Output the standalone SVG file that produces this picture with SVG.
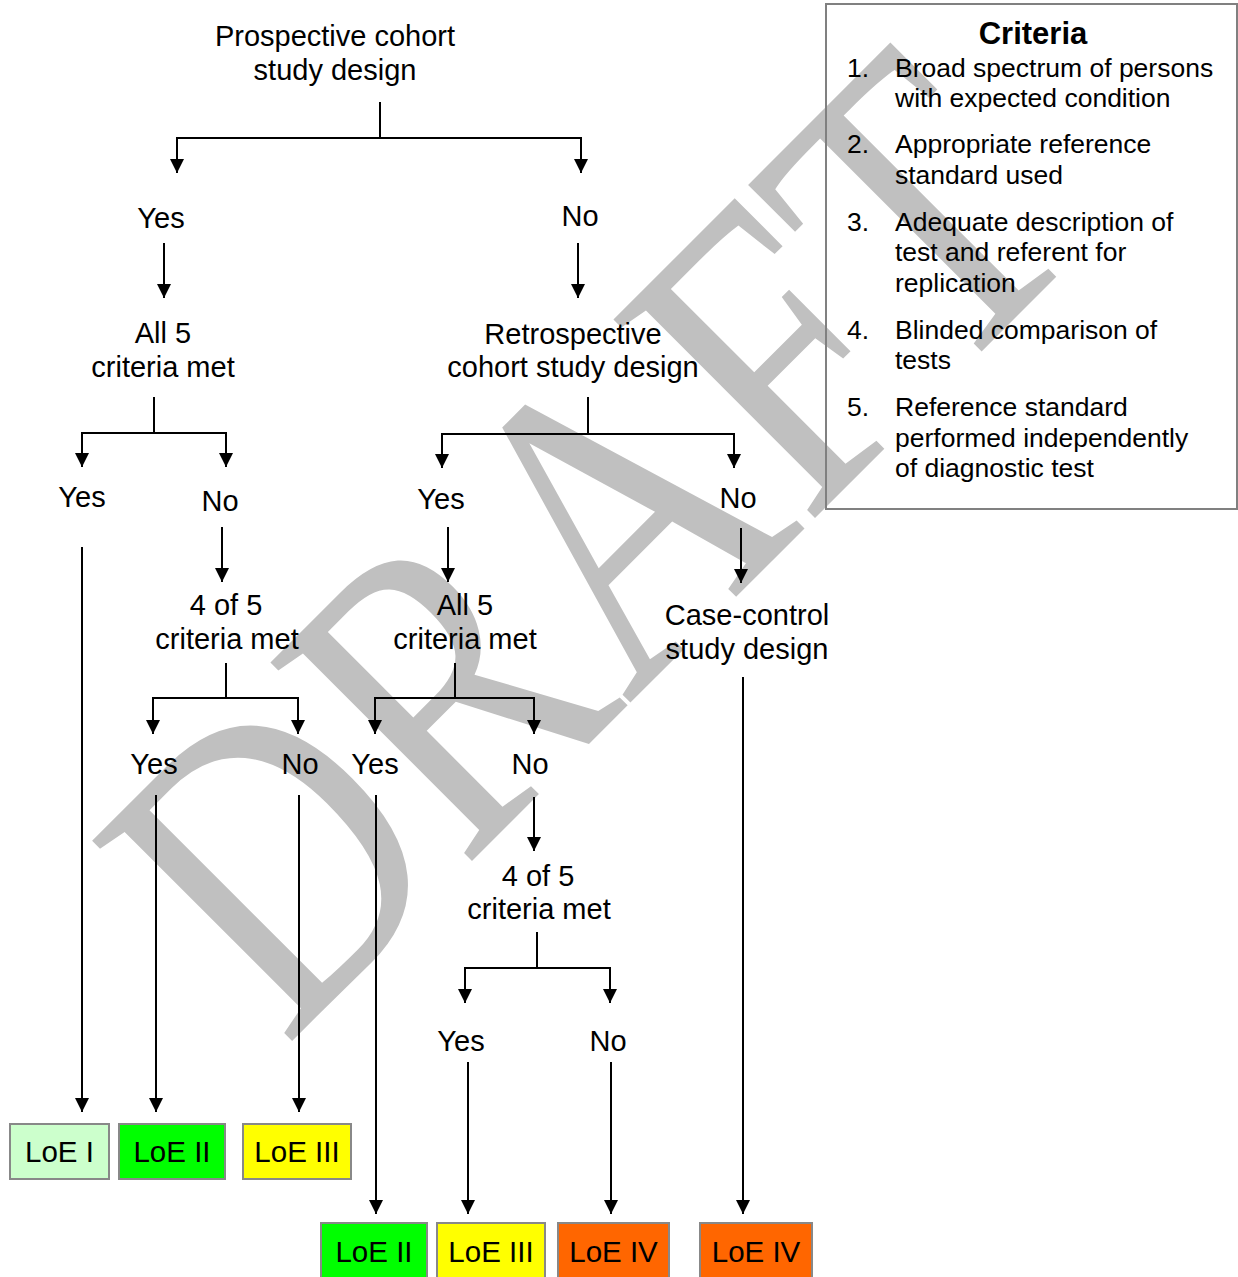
<svg xmlns="http://www.w3.org/2000/svg" width="1238" height="1277" viewBox="0 0 1238 1277">
<style>
.t{font-family:"Liberation Sans",Arial,sans-serif;font-size:29px;fill:#000;text-anchor:middle}
.c{font-family:"Liberation Sans",Arial,sans-serif;font-size:26.5px;fill:#000}
.ch{font-family:"Liberation Sans",Arial,sans-serif;font-size:31px;font-weight:bold;fill:#000;text-anchor:middle}
.b{stroke:#888;stroke-width:2}
.bt{font-family:"Liberation Sans",Arial,sans-serif;font-size:29.5px;fill:#000;text-anchor:middle}
.ln{fill:none;stroke:#000;stroke-width:2}
.ar{fill:none;stroke:#000;stroke-width:2;marker-end:url(#ah)}
</style>
<defs>
<marker id="ah" markerUnits="userSpaceOnUse" markerWidth="14" markerHeight="14" refX="14" refY="7" orient="auto">
<path d="M0,0 L14,7 L0,14 z" fill="#000"/>
</marker>
</defs>
<rect width="1238" height="1277" fill="#fff"/>
<g id="watermark">
<text transform="translate(285,1048) rotate(-45) scale(0.97,1.2)" font-family="Liberation Serif,Times New Roman,serif" font-size="360" fill="#c0c0c0">DRAFT</text>
</g>
<g id="criteria">
<rect x="826" y="4" width="411" height="505" fill="none" stroke="#808080" stroke-width="2"/>
<text class="ch" x="1033" y="44">Criteria</text>
<text class="c" x="847" y="77">1.</text>
<text class="c" x="895" y="77">Broad spectrum of persons</text>
<text class="c" x="895" y="107">with expected condition</text>
<text class="c" x="847" y="153">2.</text>
<text class="c" x="895" y="153">Appropriate reference</text>
<text class="c" x="895" y="184">standard used</text>
<text class="c" x="847" y="231">3.</text>
<text class="c" x="895" y="231">Adequate description of</text>
<text class="c" x="895" y="261">test and referent for</text>
<text class="c" x="895" y="292">replication</text>
<text class="c" x="847" y="339">4.</text>
<text class="c" x="895" y="339">Blinded comparison of</text>
<text class="c" x="895" y="369">tests</text>
<text class="c" x="847" y="416">5.</text>
<text class="c" x="895" y="416">Reference standard</text>
<text class="c" x="895" y="447">performed independently</text>
<text class="c" x="895" y="477">of diagnostic test</text>
</g>
<g id="connectors">
<path class="ln" d="M380,102 V138"/>
<path class="ar" d="M380,138 H177 V173"/>
<path class="ar" d="M380,138 H581 V173"/>
<path class="ar" d="M164,243 V298"/>
<path class="ar" d="M578,243 V298"/>
<path class="ln" d="M154,397 V433"/>
<path class="ar" d="M154,433 H82 V467"/>
<path class="ar" d="M154,433 H226 V467"/>
<path class="ln" d="M588,397 V434"/>
<path class="ar" d="M588,434 H442 V468"/>
<path class="ar" d="M588,434 H734 V468"/>
<path class="ar" d="M222,527 V582"/>
<path class="ar" d="M82,547 V1112"/>
<path class="ar" d="M448,527 V582"/>
<path class="ar" d="M741,528 V583"/>
<path class="ln" d="M226,663 V698"/>
<path class="ar" d="M226,698 H153 V734"/>
<path class="ar" d="M226,698 H298 V734"/>
<path class="ln" d="M455,663 V698"/>
<path class="ar" d="M455,698 H375 V734"/>
<path class="ar" d="M455,698 H534 V734"/>
<path class="ar" d="M156,795 V1112"/>
<path class="ar" d="M299,795 V1112"/>
<path class="ar" d="M376,795 V1214"/>
<path class="ar" d="M534,797 V851"/>
<path class="ln" d="M537,932 V968"/>
<path class="ar" d="M537,968 H465 V1003"/>
<path class="ar" d="M537,968 H610 V1003"/>
<path class="ar" d="M468,1062 V1214"/>
<path class="ar" d="M611,1062 V1214"/>
<path class="ar" d="M743,677 V1214"/>
</g>
<g id="n-prospective"><text class="t" x="335" y="46">Prospective cohort</text><text class="t" x="335" y="80">study design</text></g>
<g id="n-yes1"><text class="t" x="161" y="228">Yes</text></g>
<g id="n-no1"><text class="t" x="580" y="226">No</text></g>
<g id="n-all5a"><text class="t" x="163" y="343">All 5</text><text class="t" x="163" y="377">criteria met</text></g>
<g id="n-retro"><text class="t" x="573" y="344">Retrospective</text><text class="t" x="573" y="377">cohort study design</text></g>
<g id="n-yes2"><text class="t" x="82" y="507">Yes</text></g>
<g id="n-no2"><text class="t" x="220" y="511">No</text></g>
<g id="n-yes3"><text class="t" x="441" y="509">Yes</text></g>
<g id="n-no3"><text class="t" x="738" y="508">No</text></g>
<g id="n-4of5a"><text class="t" x="226" y="615">4 of 5</text><text class="t" x="227" y="649">criteria met</text></g>
<g id="n-all5b"><text class="t" x="465" y="615">All 5</text><text class="t" x="465" y="649">criteria met</text></g>
<g id="n-case"><text class="t" x="747" y="625">Case-control</text><text class="t" x="747" y="659">study design</text></g>
<g id="n-yes4"><text class="t" x="154" y="774">Yes</text></g>
<g id="n-no4"><text class="t" x="300" y="774">No</text></g>
<g id="n-yes5"><text class="t" x="375" y="774">Yes</text></g>
<g id="n-no5"><text class="t" x="530" y="774">No</text></g>
<g id="n-4of5b"><text class="t" x="538" y="886">4 of 5</text><text class="t" x="539" y="919">criteria met</text></g>
<g id="n-yes6"><text class="t" x="461" y="1051">Yes</text></g>
<g id="n-no6"><text class="t" x="608" y="1051">No</text></g>
<g id="loe1"><rect class="b" x="10" y="1124" width="99" height="55" fill="#ccffcc"/><text class="bt" x="59.5" y="1162">LoE I</text></g>
<g id="loe2a"><rect class="b" x="119" y="1124" width="106" height="55" fill="#00ff00"/><text class="bt" x="172" y="1162">LoE II</text></g>
<g id="loe3a"><rect class="b" x="243" y="1124" width="108" height="55" fill="#ffff00"/><text class="bt" x="297" y="1162">LoE III</text></g>
<g id="loe2b"><rect class="b" x="321" y="1223" width="106" height="56" fill="#00ff00"/><text class="bt" x="374" y="1262">LoE II</text></g>
<g id="loe3b"><rect class="b" x="437" y="1223" width="108" height="56" fill="#ffff00"/><text class="bt" x="491" y="1262">LoE III</text></g>
<g id="loe4a"><rect class="b" x="558" y="1223" width="111" height="56" fill="#ff6600"/><text class="bt" x="613.5" y="1262">LoE IV</text></g>
<g id="loe4b"><rect class="b" x="700" y="1223" width="112" height="56" fill="#ff6600"/><text class="bt" x="756" y="1262">LoE IV</text></g>
</svg>
